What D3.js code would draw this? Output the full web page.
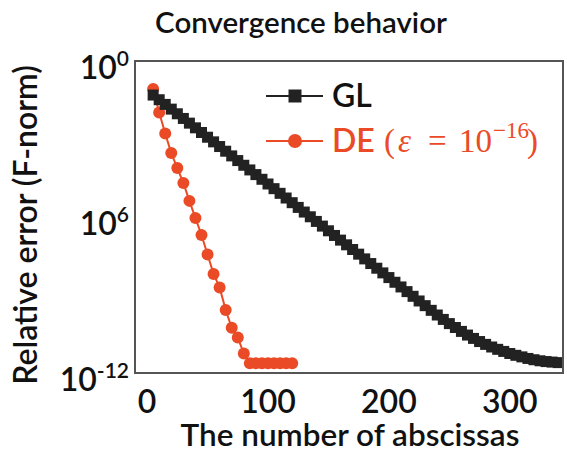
<!DOCTYPE html>
<html>
<head>
<meta charset="utf-8">
<script src="https://cdn.jsdelivr.net/npm/d3@7"></script>
<style>
  body { margin: 0; background: #fff; }
  text { font-family: Lato, "Open Sans", sans-serif; fill: #111; }
</style>
</head>
<body>
<div id="chart"></div>
<script>
// abscissas counts
const glN = [5,10,15,20,25,30,35,40,45,50,55,60,65,70,75,80,85,90,95,100,
  105,110,115,120,125,130,135,140,145,150,155,160,165,170,175,180,185,190,195,200,
  205,210,215,220,225,230,235,240,245,250,255,260,265,270,275,280,285,290,295,300,
  305,310,315,320,325,330,335,340];
const glErr = [4.90e-2,3.24e-2,2.14e-2,1.41e-2,9.33e-3,6.17e-3,4.07e-3,2.69e-3,1.78e-3,1.17e-3,
  7.76e-4,5.13e-4,3.39e-4,2.24e-4,1.48e-4,9.77e-5,6.46e-5,4.27e-5,2.82e-5,1.86e-5,
  1.23e-5,8.13e-6,5.37e-6,3.55e-6,2.34e-6,1.55e-6,1.02e-6,6.76e-7,4.47e-7,2.95e-7,
  1.95e-7,1.29e-7,8.51e-8,5.62e-8,3.72e-8,2.45e-8,1.62e-8,1.07e-8,7.08e-9,4.68e-9,
  3.09e-9,2.04e-9,1.35e-9,8.91e-10,5.89e-10,3.89e-10,2.57e-10,1.70e-10,1.15e-10,7.94e-11,
  5.62e-11,3.98e-11,2.88e-11,2.14e-11,1.62e-11,1.26e-11,1.00e-11,8.13e-12,6.76e-12,5.62e-12,
  4.79e-12,4.17e-12,3.63e-12,3.24e-12,2.95e-12,2.75e-12,2.63e-12,2.51e-12];

const deN = [5,10,15,20,25,30,35,40,45,50,55,60,65,70,75,80,85,90,95,100,105,110,115,120];
const deErr = [8.3e-2,1.05e-2,1.62e-3,2.88e-4,7.6e-5,2.04e-5,4.17e-6,9.1e-7,2.04e-7,3.6e-8,
  6.4e-9,1.95e-9,2.63e-10,5.5e-11,2.34e-11,5.6e-12,2.35e-12,2.35e-12,2.35e-12,2.35e-12,
  2.35e-12,2.35e-12,2.35e-12,2.35e-12];

const xTicks = [0, 100, 200, 300];
const yTicks = [1e0, 1e-6, 1e-12];
const yTickExp = ["0", "6", "-12"];

const W = 567, H = 452;
const pl = 135, pr = 563, pt = 61, pb = 373;
const red = "#ea4a26", black = "#222";
const fs = "32px";

const svg = d3.select("#chart").append("svg")
    .attr("width", W).attr("height", H);

const x = d3.scaleLinear().domain([-10, 344]).range([pl, pr]);
const y = d3.scaleLog().domain([1e-12, 1]).range([pb, pt]);

svg.append("defs").append("clipPath").attr("id", "clip")
  .append("rect")
    .attr("x", pl).attr("y", pt)
    .attr("width", pr - pl).attr("height", pb - pt);

const plot = svg.append("g").attr("clip-path", "url(#clip)");

const gl = glN.map((n, i) => ({n: n, e: glErr[i]}));
const de = deN.map((n, i) => ({n: n, e: deErr[i]}));

const line = d3.line().x(d => x(d.n)).y(d => y(d.e));

// DE first, GL drawn over it
plot.append("path").datum(de)
    .attr("d", line)
    .attr("fill", "none").attr("stroke", red).attr("stroke-width", 2);
plot.selectAll(".de").data(de).enter().append("circle")
    .attr("cx", d => x(d.n)).attr("cy", d => y(d.e))
    .attr("r", 6).attr("fill", red);

plot.append("path").datum(gl)
    .attr("d", line)
    .attr("fill", "none").attr("stroke", black).attr("stroke-width", 2);
const sq = 11;
plot.selectAll(".gl").data(gl).enter().append("rect")
    .attr("x", d => x(d.n) - sq / 2).attr("y", d => y(d.e) - sq / 2)
    .attr("width", sq).attr("height", sq).attr("fill", black);

// frame
svg.append("rect")
    .attr("x", pl).attr("y", pt)
    .attr("width", pr - pl).attr("height", pb - pt)
    .attr("fill", "none").attr("stroke", "#555").attr("stroke-width", 2);

// x tick labels
svg.append("g").selectAll("text").data(xTicks).enter().append("text")
    .attr("x", d => x(d)).attr("y", 413)
    .attr("text-anchor", "middle")
    .style("font-size", fs).style("font-weight", 600)
    .text(d => d);

// y tick labels with superscripts
const yl = svg.append("g").selectAll("text").data(yTicks).enter().append("text")
    .attr("x", 129).attr("y", d => y(d) + 18)
    .attr("text-anchor", "end")
    .style("font-size", fs).style("font-weight", 600);
yl.append("tspan").text("10");
yl.append("tspan")
    .attr("dy", -13).style("font-size", "21px")
    .text((d, i) => yTickExp[i]);

// axis titles
svg.append("text")
    .attr("x", 350).attr("y", 446)
    .attr("text-anchor", "middle")
    .style("font-size", "31.5px").style("font-weight", 600)
    .text("The number of abscissas");

svg.append("text")
    .attr("transform", "translate(37,225) rotate(-90)")
    .attr("text-anchor", "middle")
    .style("font-size", fs).style("font-weight", 600)
    .text("Relative error (F-norm)");

svg.append("text")
    .attr("x", 301).attr("y", 33)
    .attr("text-anchor", "middle")
    .style("font-size", "29.5px").style("font-weight", 600)
    .text("Convergence behavior");

// legend
const lg = svg.append("g");
lg.append("line").attr("x1", 266).attr("x2", 323).attr("y1", 96).attr("y2", 96)
    .attr("stroke", black).attr("stroke-width", 2);
lg.append("rect").attr("x", 295 - 6.5).attr("y", 96 - 6.5)
    .attr("width", 13).attr("height", 13).attr("fill", black);
lg.append("text").attr("x", 332).attr("y", 107)
    .style("font-size", fs).style("font-weight", 600)
    .text("GL");

lg.append("line").attr("x1", 266).attr("x2", 323).attr("y1", 141).attr("y2", 141)
    .attr("stroke", red).attr("stroke-width", 2);
lg.append("circle").attr("cx", 295).attr("cy", 141).attr("r", 7).attr("fill", red);
lg.append("text").attr("x", 332).attr("y", 152)
    .style("font-size", fs).style("font-weight", 600)
    .style("fill", red)
    .text("DE");
// math part, spaced like a TeX formula
const math = lg.append("text").attr("y", 152)
    .style("font-family", "'Liberation Serif', 'DejaVu Serif', serif")
    .style("font-size", "33px").style("fill", red);
math.append("tspan").attr("x", 384).text("(");
math.append("tspan").attr("x", 398).style("font-style", "italic").text("ε");
math.append("tspan").attr("x", 428).text("=");
math.append("tspan").attr("x", 459).text("10");
math.append("tspan").attr("x", 493).attr("dy", -14).style("font-size", "23px").text("−16");
math.append("tspan").attr("x", 527).attr("dy", 14).text(")");
</script>
</body>
</html>
